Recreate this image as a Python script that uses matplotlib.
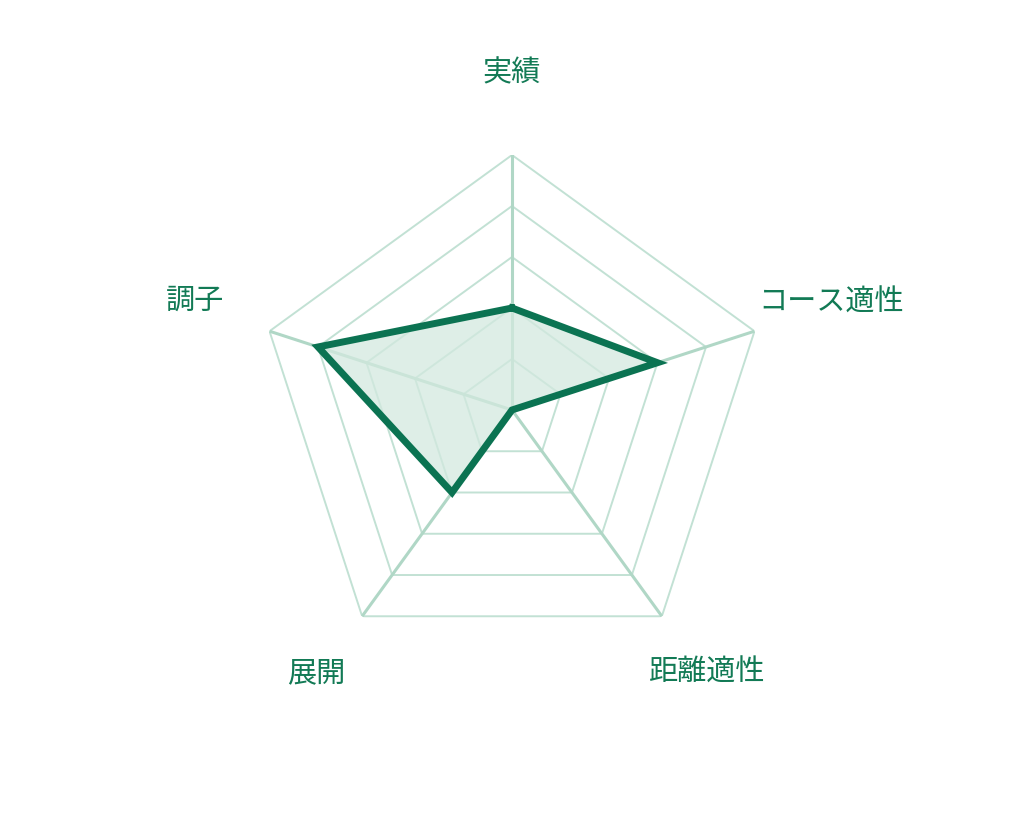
import numpy as np
import matplotlib.pyplot as plt

plt.rcParams['font.family'] = ['Noto Sans CJK JP', 'DejaVu Sans']

labels = ["実績", "コース適性", "距離適性", "展開", "調子"]
values = [2, 3, 0, 2, 4]
levels = [1, 2, 3, 4, 5]

line_color = "#0b7352"
ring_color = "#c2e1d4"
spoke_color = "#b0d7c6"
text_color = "#127a55"

# label offsets from the chart centre, in pixels
label_off = [(0, 338), (319, 108), (195, -262), (-196, -262), (-317, 110)]

n = len(labels)
angles = np.linspace(0, 2 * np.pi, n, endpoint=False)
closed = np.append(angles, angles[0])

fig = plt.figure(figsize=(10.24, 8.2), dpi=100)
ax = fig.add_axes([0.5 - 0.249, 0.4988 - 0.311, 0.498, 0.622], projection="polar")
ax.set_theta_offset(np.pi / 2)
ax.set_theta_direction(-1)
ax.set_ylim(0, 5)
ax.grid(False)
ax.spines["polar"].set_visible(False)
ax.set_xticks([])
ax.set_yticks([])
ax.patch.set_alpha(0)

for lv in levels:
    ax.plot(closed, [lv] * (n + 1), color=ring_color, lw=1.4, zorder=1)
for a in angles:
    ax.plot([a, a], [0, 5], color=spoke_color, lw=2.2, zorder=1)

vals = np.append(values, values[0])
ax.fill(closed, vals, color="#d3e9df", alpha=0.75, zorder=2)
ax.plot(closed, vals, color=line_color, lw=5, zorder=3, solid_joinstyle="miter")

for lab, off in zip(labels, label_off):
    ax.annotate(lab, xy=(0, 0), xycoords="data", xytext=off,
                textcoords="offset pixels", ha="center", va="center",
                fontsize=21, color=text_color, annotation_clip=False)

fig.savefig("out.png", dpi=100, facecolor="white")
